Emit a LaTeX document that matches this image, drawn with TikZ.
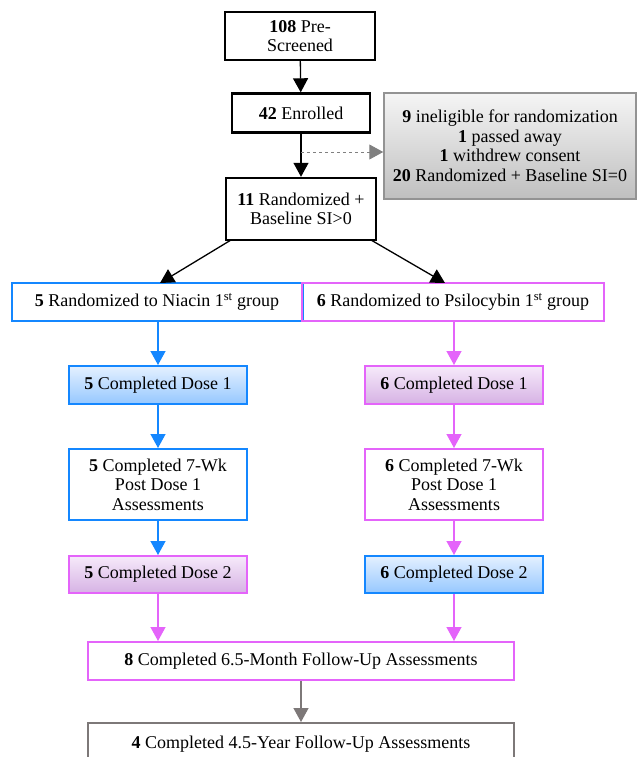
\documentclass[tikz,border=0pt]{standalone}
\usepackage{fontspec}
\setmainfont{Liberation Serif}
\usetikzlibrary{arrows.meta}
\definecolor{bl}{RGB}{20,135,255}
\definecolor{pk}{RGB}{228,100,250}
\definecolor{gr}{RGB}{125,120,120}
\definecolor{btop}{RGB}{228,240,255}
\definecolor{bbot}{RGB}{150,200,255}
\definecolor{ptop}{RGB}{246,234,250}
\definecolor{pbot}{RGB}{214,178,228}
\tikzset{
  box/.style={draw, rectangle, align=center, inner sep=0pt, font=\fontsize{18}{19.5}\selectfont},
  blk/.style={box, draw=black, line width=2.4pt},
  blu/.style={box, draw=bl, line width=2pt},
  pnk/.style={box, draw=pk, line width=2pt},
  bfill/.style={top color=btop, bottom color=bbot},
  pfill/.style={top color=ptop, bottom color=pbot},
  tip/.style={-{Triangle[width=15pt,length=14pt]}},
  karr/.style={tip, line width=1.3pt, black},
  barr/.style={tip, line width=1.3pt, bl},
  parr/.style={tip, line width=1.3pt, pk},
}
\begin{document}
\begin{tikzpicture}[x=1pt,y=-1pt]
\useasboundingbox (0,0) rectangle (641,757);
\clip (0,0) rectangle (641,757);
\node[blk, minimum width=150pt, minimum height=48pt] (pre) at (300,36) {\textbf{108} Pre-\\Screened};
\node[blk, minimum width=138pt, minimum height=39pt] (enr) at (301,113) {\textbf{42} Enrolled};
\node[box, draw=gray!85, line width=1.5pt, top color=gray!8, bottom color=gray!50, minimum width=252pt, minimum height=106pt] (inel) at (510,146) {\textbf{9} ineligible for randomization\\\textbf{1} passed away\\\textbf{1} withdrew consent\\\textbf{20} Randomized + Baseline SI=0};
\node[blk, minimum width=150pt, minimum height=62pt] (rand) at (301,209) {\textbf{11} Randomized +\\Baseline SI>0};
\node[blu, minimum width=291pt, minimum height=38pt] (nia) at (157,302) {\textbf{5} Randomized to Niacin 1\textsuperscript{st}\ group};
\node[pnk, minimum width=302pt, minimum height=38pt] (psi) at (453,302) {\textbf{6} Randomized to Psilocybin 1\textsuperscript{st} group};
\node[blu, bfill, minimum width=178pt, minimum height=38pt] (ld1) at (158,385) {\textbf{5} Completed Dose 1};
\node[pnk, pfill, minimum width=178pt, minimum height=38pt] (rd1) at (454,385) {\textbf{6} Completed Dose 1};
\node[blu, minimum width=178pt, minimum height=71pt] (lwk) at (158,484.5) {\textbf{5} Completed 7-Wk\\Post Dose 1\\Assessments};
\node[pnk, minimum width=178pt, minimum height=71pt] (rwk) at (454,484.5) {\textbf{6} Completed 7-Wk\\Post Dose 1\\Assessments};
\node[pnk, pfill, minimum width=178pt, minimum height=37pt] (ld2) at (158,574.5) {\textbf{5} Completed Dose 2};
\node[blu, bfill, minimum width=178pt, minimum height=37pt] (rd2) at (454,574.5) {\textbf{6} Completed Dose 2};
\node[pnk, minimum width=426pt, minimum height=38pt] (six) at (301,661) {\textbf{8} Completed 6.5-Month Follow-Up Assessments};
\node[box, draw=gr, line width=2pt, minimum width=426pt, minimum height=60pt, anchor=north] (four) at (301,722) {};
\node[font=\fontsize{18}{19.5}\selectfont] (fourt) at (301,744) {\textbf{4} Completed 4.5-Year Follow-Up Assessments};
\coordinate (dj) at (301,152);
\coordinate (rsw) at (231,240);
\coordinate (rse) at (371,240);
\coordinate (nt) at (160,283);
\coordinate (pt) at (445,283);
\draw[karr] (pre) -- (enr);
\draw[karr] (enr) -- (rand);
\draw[tip, gray, dashed, line width=1pt] (dj) -- (dj -| inel.west);
\draw[karr] (rsw) -- (nt);
\draw[karr] (rse) -- (pt);
\draw[barr] (nia.south -| ld1) -- (ld1);
\draw[parr] (psi.south -| rd1) -- (rd1);
\draw[barr] (ld1) -- (lwk);
\draw[parr] (rd1) -- (rwk);
\draw[barr] (lwk) -- (ld2);
\draw[parr] (rwk) -- (rd2);
\draw[parr] (ld2) -- (ld2 |- six.north);
\draw[parr] (rd2) -- (rd2 |- six.north);
\draw[tip, gr, line width=1.3pt] (six) -- (four);
\end{tikzpicture}
\end{document}
